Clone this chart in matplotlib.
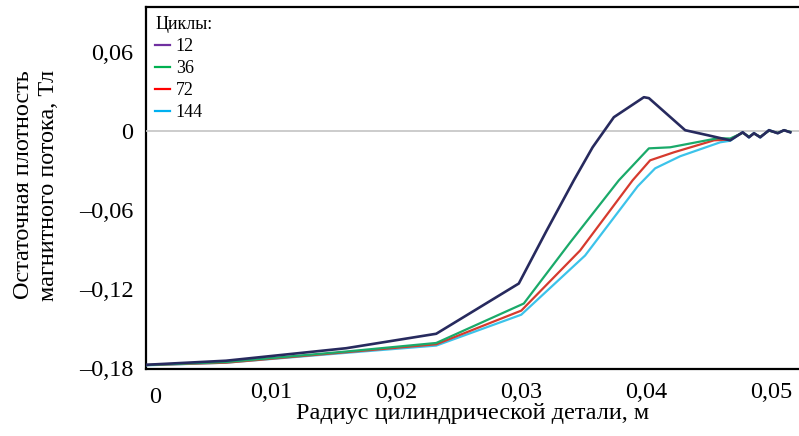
import matplotlib
matplotlib.use("Agg")
import matplotlib.pyplot as plt
from matplotlib.lines import Line2D
from matplotlib.transforms import ScaledTranslation

plt.rcParams["font.family"] = ["Liberation Serif", "DejaVu Serif"]

# радиус, м / остаточная плотность, Тл
x_12 = [0.0, 0.0064, 0.016, 0.0232, 0.0298, 0.0320, 0.0342, 0.0357, 0.0374, 0.0398, 0.0402,
        0.0431, 0.0449, 0.0467, 0.0477, 0.0482, 0.0486, 0.0491, 0.0498, 0.0505, 0.0510, 0.0515]
y_12 = [-0.1776, -0.1745, -0.165, -0.154, -0.1158, -0.076, -0.0373, -0.0122, 0.0107, 0.0259, 0.0252,
        0.0008, -0.003, -0.0069, -0.0008, -0.0046, -0.0015, -0.0046, 0.0008, -0.0015, 0.0008, -0.0008]

x_36 = [0.0, 0.0064, 0.016, 0.0232, 0.0302, 0.0339, 0.0378, 0.0402, 0.0419, 0.0457, 0.0467,
        0.0477, 0.0482, 0.0486, 0.0491, 0.0498, 0.0505, 0.0510, 0.0515]
y_36 = [-0.1778, -0.1755, -0.1675, -0.161, -0.131, -0.0846, -0.0373, -0.013, -0.0122, -0.0053, -0.0055,
        -0.0012, -0.0040, -0.0018, -0.0042, 0.0004, -0.0012, 0.0006, -0.0004]

x_72 = [0.0, 0.0064, 0.016, 0.0232, 0.0300, 0.0347, 0.0389, 0.0403, 0.0422, 0.0454, 0.0467,
        0.0477, 0.0482, 0.0486, 0.0491, 0.0498, 0.0505, 0.0510, 0.0515]
y_72 = [-0.1778, -0.176, -0.168, -0.162, -0.1364, -0.0907, -0.0373, -0.0221, -0.016, -0.0069, -0.0062,
        -0.0010, -0.0044, -0.0016, -0.0044, 0.0006, -0.0014, 0.0008, -0.0006]

x_144 = [0.0, 0.0064, 0.016, 0.0232, 0.0300, 0.0351, 0.0393, 0.0407, 0.0427, 0.0459, 0.0467,
         0.0477, 0.0482, 0.0486, 0.0491, 0.0498, 0.0505, 0.0510, 0.0515]
y_144 = [-0.1780, -0.176, -0.1685, -0.163, -0.1395, -0.0945, -0.0419, -0.0282, -0.019, -0.0084, -0.0072,
         -0.0006, -0.0048, -0.0012, -0.0048, 0.0010, -0.0016, 0.0010, -0.0008]

labels = ["12", "36", "72", "144"]
line_colors = ["#272a5e", "#1aaa6a", "#d63a2e", "#3cc3ea"]
legend_colors = ["#7030a0", "#00b050", "#ff0000", "#00b0f0"]

x_ticks = [0.01, 0.02, 0.03, 0.04, 0.05]
x_tick_labels = ["0,01", "0,02", "0,03", "0,04", "0,05"]
y_ticks = [0.06, 0.0, -0.06, -0.12, -0.18]
y_tick_labels = ["0,06", "0", "\u20130,06", "\u20130,12", "\u20130,18"]

fig = plt.figure(figsize=(7.99, 4.36), dpi=100)
ax = fig.add_axes([146 / 799, 1 - 369 / 436, 1 - 146 / 799, 362 / 436])

series = [(x_144, y_144), (x_72, y_72), (x_36, y_36), (x_12, y_12)]
widths = [1.6, 1.6, 1.6, 1.9]
for (xs, ys), c, w in zip(series, line_colors[::-1], widths):
    ax.plot(xs, ys, color=c, lw=w, zorder=7)

ax.set_xlim(0, 0.0522)
ax.set_ylim(-0.1808, 0.0945)

ax.set_xticks(x_ticks)
ax.set_xticklabels(x_tick_labels, fontsize=17.5)
ax.set_yticks(y_ticks)
ax.set_yticklabels(y_tick_labels, fontsize=17.5)
ax.tick_params(length=0, pad=9)

# «0» на оси x стоит отдельно, чуть ниже остальных подписей
ax.text(0, 0, "0", fontsize=17.5, ha="center", va="top",
        transform=ax.get_xaxis_transform() + ScaledTranslation(0.09, -0.18, fig.dpi_scale_trans))

ax.spines["right"].set_visible(False)
for s in ["left", "top", "bottom"]:
    ax.spines[s].set_linewidth(1.6)
    ax.spines[s].set_color("black")

ax.set_xlabel("Радиус цилиндрической детали, м", fontsize=17.5, labelpad=0)
fig.text(36 / 799, 1 - 185 / 436, "Остаточная плотность\nмагнитного потока, Тл",
         rotation=90, ha="center", va="center", fontsize=17.5, linespacing=1.2)

handles = [Line2D([], [], color=c, lw=1.6) for c in legend_colors]
leg = ax.legend(handles, labels, title="Циклы:", loc="upper left", fontsize=13,
                title_fontsize=13, alignment="left", handlelength=0.85,
                handletextpad=0.3, labelspacing=0.28, borderaxespad=0.2,
                borderpad=0.3, frameon=True, fancybox=False, framealpha=1,
                edgecolor="white")

# нулевая линия поверх фона легенды, но под кривыми
ax.axhline(0, color="#c4c4c4", lw=1.2, zorder=6)

fig.savefig("out.png", dpi=100)
